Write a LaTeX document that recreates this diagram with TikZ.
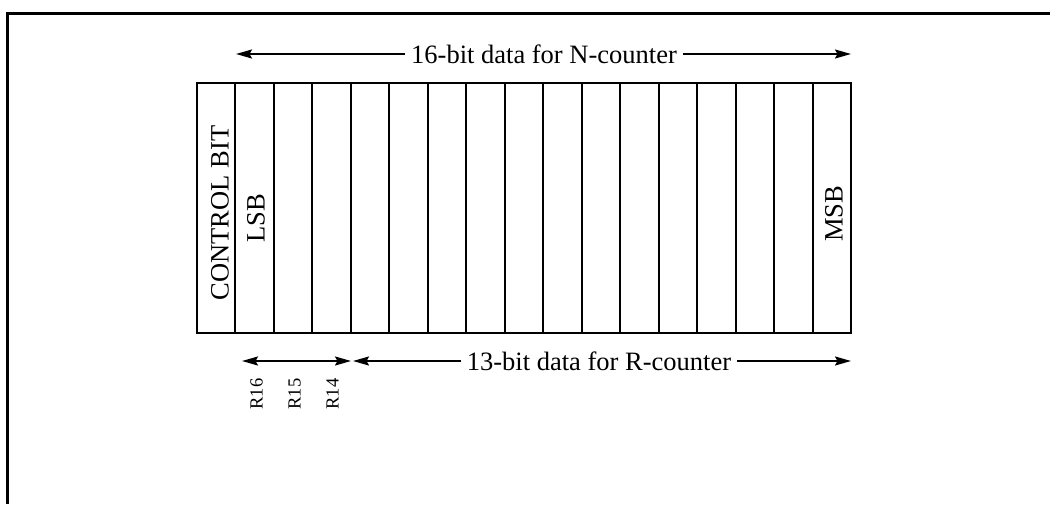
\documentclass[tikz,border=0pt]{standalone}
\usepackage{fontspec}
\usepackage{tikz}
\usetikzlibrary{arrows.meta}
\setmainfont{Liberation Serif}

\begin{document}
\begin{tikzpicture}[x=1pt,y=-1pt,
bit_cell/.style={rectangle,draw,line width=2pt,minimum width=38.47pt,minimum height=250pt,inner sep=0pt},
big_text/.style={font=\fontsize{26.5}{30}\selectfont,inner sep=6pt},
bit_text/.style={font=\fontsize{26.5}{30}\selectfont,rotate=90,inner sep=0pt},
small_text/.style={font=\fontsize{18.5}{20}\selectfont,rotate=90,inner sep=0pt},
arrow_line/.style={line width=2pt,-{Stealth[length=16pt,width=9pt,inset=2.5pt]}},
both_line/.style={line width=2pt,{Stealth[length=16pt,width=9pt,inset=2.5pt]}-{Stealth[length=16pt,width=9pt,inset=2.5pt]}}]

\useasboundingbox (0,0) rectangle (1050,504);
\draw[line width=3pt] (7.5,504) -- (7.5,13) -- (1050,13);

\node[bit_cell] (0) at (216.24, 208) {};
\node[bit_cell] (1) at (254.71, 208) {};
\node[bit_cell] (2) at (293.18, 208) {};
\node[bit_cell] (3) at (331.65, 208) {};
\node[bit_cell] (4) at (370.12, 208) {};
\node[bit_cell] (5) at (408.59, 208) {};
\node[bit_cell] (6) at (447.06, 208) {};
\node[bit_cell] (7) at (485.53, 208) {};
\node[bit_cell] (8) at (524.00, 208) {};
\node[bit_cell] (9) at (562.47, 208) {};
\node[bit_cell] (10) at (600.94, 208) {};
\node[bit_cell] (11) at (639.41, 208) {};
\node[bit_cell] (12) at (677.88, 208) {};
\node[bit_cell] (13) at (716.35, 208) {};
\node[bit_cell] (14) at (754.82, 208) {};
\node[bit_cell] (15) at (793.29, 208) {};
\node[bit_cell] (16) at (831.76, 208) {};

\node[bit_text] (ctrl) at (220, 213) {CONTROL BIT};
\node[bit_text] (lsb) at (256, 218) {LSB};
\node[bit_text] (msb) at (834, 214) {MSB};

\node[big_text] (ntext) at (544, 54) {16-bit data for N-counter};
\coordinate (nl) at (236, 54);
\coordinate (nr) at (851, 54);

\node[big_text] (rtext) at (599, 361) {13-bit data for R-counter};
\coordinate (ra) at (242, 361);
\coordinate (rb) at (351, 361);
\coordinate (rc) at (353, 361);
\coordinate (rd) at (851, 361);

\node[small_text] (r16) at (256.5, 394) {R16};
\node[small_text] (r15) at (294.5, 394) {R15};
\node[small_text] (r14) at (332.5, 394) {R14};

 \path[draw]
(ntext) edge[arrow_line] (nl)
(ntext) edge[arrow_line] (nr)
(rtext) edge[arrow_line] (rc)
(rtext) edge[arrow_line] (rd)
(ra) edge[both_line] (rb)
;

\end{tikzpicture}
\end{document}
